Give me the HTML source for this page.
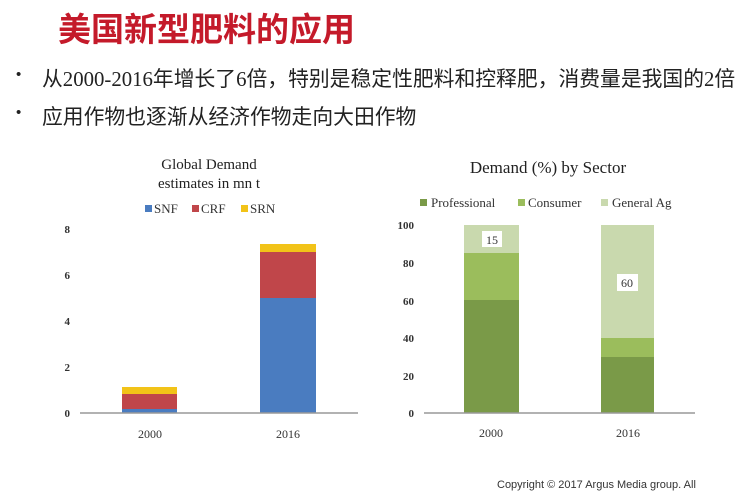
<!DOCTYPE html>
<html><head><meta charset="utf-8"><style>
body{margin:0;width:750px;height:500px;background:#fff;overflow:hidden;position:relative;font-family:"Liberation Serif","Noto Serif CJK SC",serif;}
.t{position:absolute;white-space:nowrap}
</style></head><body>
<div class="t" style="left:58px;top:3px;font:bold 33px 'Liberation Sans','Noto Sans CJK SC',sans-serif;color:#c41a2a;">美国新型肥料的应用</div>
<div class="t" style="left:16px;top:66px;font:15px 'Liberation Sans',sans-serif;color:#222;">•</div>
<div class="t" style="left:42px;top:62px;font:20.8px 'Liberation Serif','Noto Sans CJK SC',sans-serif;color:#222;letter-spacing:0px">从2000-2016年增长了6倍，特别是稳定性肥料和控释肥，消费量是我国的2倍</div>
<div class="t" style="left:16px;top:104px;font:15px 'Liberation Sans',sans-serif;color:#222;">•</div>
<div class="t" style="left:42px;top:100px;font:20.8px 'Liberation Serif','Noto Sans CJK SC',sans-serif;color:#222;letter-spacing:0px">应用作物也逐渐从经济作物走向大田作物</div>
<svg width="750" height="500" style="position:absolute;left:0;top:0" font-family="Liberation Serif, serif">
<text x="209" y="169" font-size="15" text-anchor="middle" fill="#222">Global Demand</text>
<text x="209" y="188" font-size="15" text-anchor="middle" fill="#222">estimates in mn t</text>
<rect x="145" y="205" width="7" height="7" fill="#4a7cc0"/><text x="154" y="213" font-size="13" fill="#333">SNF</text>
<rect x="192" y="205" width="7" height="7" fill="#c0464a"/><text x="201" y="213" font-size="13" fill="#333">CRF</text>
<rect x="241" y="205" width="7" height="7" fill="#f2c318"/><text x="250" y="213" font-size="13" fill="#333">SRN</text>
<g font-size="11" fill="#333" font-weight="bold" text-anchor="end">
<text x="70" y="233">8</text><text x="70" y="279">6</text><text x="70" y="325">4</text><text x="70" y="371">2</text><text x="70" y="417">0</text></g>
<rect x="122" y="387" width="55" height="7" fill="#f2c318"/>
<rect x="122" y="394" width="55" height="15" fill="#c0464a"/>
<rect x="122" y="409" width="55" height="4" fill="#4a7cc0"/>
<rect x="260" y="244" width="56" height="8" fill="#f2c318"/>
<rect x="260" y="252" width="56" height="46" fill="#c0464a"/>
<rect x="260" y="298" width="56" height="115" fill="#4a7cc0"/>
<line x1="80" y1="413" x2="358" y2="413" stroke="#999" stroke-width="1.5"/>
<text x="150" y="438" font-size="12" text-anchor="middle" fill="#333">2000</text>
<text x="288" y="438" font-size="12" text-anchor="middle" fill="#333">2016</text>

<text x="548" y="173" font-size="17" text-anchor="middle" fill="#222">Demand (%) by Sector</text>
<rect x="420" y="199" width="7" height="7" fill="#7a9a48"/><text x="431" y="207" font-size="13" fill="#333">Professional</text>
<rect x="518" y="199" width="7" height="7" fill="#9bbd5c"/><text x="528" y="207" font-size="13" fill="#333">Consumer</text>
<rect x="601" y="199" width="7" height="7" fill="#c9d9ae"/><text x="612" y="207" font-size="13" fill="#333">General Ag</text>
<g font-size="11" fill="#333" font-weight="bold" text-anchor="end">
<text x="414" y="229">100</text><text x="414" y="267">80</text><text x="414" y="305">60</text><text x="414" y="342">40</text><text x="414" y="380">20</text><text x="414" y="417">0</text></g>
<rect x="464" y="225" width="55" height="28" fill="#c9d9ae"/>
<rect x="464" y="253" width="55" height="47" fill="#9bbd5c"/>
<rect x="464" y="300" width="55" height="113" fill="#7a9a48"/>
<rect x="601" y="225" width="53" height="113" fill="#c9d9ae"/>
<rect x="601" y="338" width="53" height="19" fill="#9bbd5c"/>
<rect x="601" y="357" width="53" height="56" fill="#7a9a48"/>
<rect x="482" y="231" width="20" height="16" fill="#fff"/><text x="492" y="244" font-size="12" text-anchor="middle" fill="#333">15</text>
<rect x="617" y="274" width="21" height="17" fill="#fff"/><text x="627" y="287" font-size="12" text-anchor="middle" fill="#333">60</text>
<line x1="424" y1="413" x2="695" y2="413" stroke="#999" stroke-width="1.5"/>
<text x="491" y="437" font-size="12" text-anchor="middle" fill="#333">2000</text>
<text x="628" y="437" font-size="12" text-anchor="middle" fill="#333">2016</text>
<text x="497" y="488" font-size="11" font-family="Liberation Sans, sans-serif" fill="#333">Copyright © 2017 Argus Media group. All</text>
</svg>
</body></html>
